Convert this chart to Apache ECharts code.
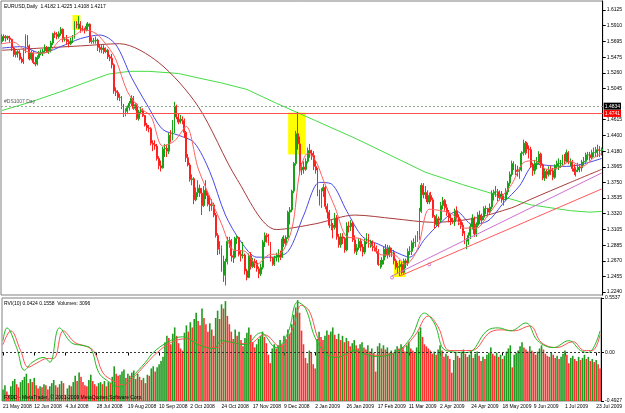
<!DOCTYPE html>
<html>
<head>
<meta charset="utf-8">
<script src="https://cdn.jsdelivr.net/npm/echarts@6/dist/echarts.min.js"></script>
<style>
html,body{margin:0;padding:0;background:#fff;}
#graph_eurusd{width:625px;height:413px;}
</style>
</head>
<body>
<div id="graph_eurusd"></div>
<script>
// date labels, one every 16 daily bars
var tickDates = ['21 May 2008','12 Jun 2008','4 Jul 2008','28 Jul 2008','19 Aug 2008','10 Sep 2008','2 Oct 2008','24 Oct 2008','17 Nov 2008','9 Dec 2008',
  '2 Jan 2009','26 Jan 2009','17 Feb 2009','11 Mar 2009','2 Apr 2009','24 Apr 2009','18 May 2009','9 Jun 2009','1 Jul 2009','23 Jul 2009'];

var priceTicks = [1.6125,1.5910,1.5695,1.5475,1.5260,1.5045,1.4615,1.4400,1.4180,1.3965,1.3750,1.3535,1.3320,1.3105,1.2885,1.2670,1.2455,1.2240];

// [open, close, low, high]
var candles = [
[1.569,1.576,1.566,1.579],[1.576,1.574,1.570,1.579],[1.574,1.576,1.569,1.578],[1.576,1.574,1.571,1.577],[1.574,1.572,1.567,1.577],
[1.572,1.560,1.556,1.573],[1.560,1.551,1.548,1.562],[1.551,1.555,1.547,1.557],[1.555,1.553,1.547,1.557],[1.553,1.545,1.543,1.557],
[1.545,1.541,1.539,1.548],[1.541,1.556,1.538,1.560],[1.556,1.577,1.553,1.579],[1.577,1.563,1.561,1.578],[1.563,1.545,1.543,1.565],
[1.545,1.553,1.543,1.557],[1.553,1.540,1.538,1.556],[1.540,1.538,1.535,1.548],[1.538,1.547,1.536,1.550],[1.547,1.553,1.545,1.556],
[1.553,1.554,1.550,1.558],[1.554,1.556,1.549,1.559],[1.556,1.561,1.553,1.565],[1.561,1.555,1.553,1.563],[1.555,1.560,1.552,1.562],
[1.560,1.567,1.554,1.570],[1.567,1.580,1.564,1.581],[1.580,1.579,1.574,1.583],[1.579,1.576,1.572,1.582],[1.576,1.580,1.573,1.583],
[1.580,1.586,1.577,1.589],[1.586,1.572,1.568,1.587],[1.572,1.572,1.569,1.575],[1.572,1.569,1.565,1.578],[1.569,1.566,1.561,1.572],
[1.566,1.570,1.564,1.574],[1.570,1.575,1.567,1.578],[1.575,1.594,1.573,1.597],[1.594,1.592,1.587,1.597],[1.592,1.593,1.586,1.604],
[1.593,1.587,1.581,1.597],[1.587,1.586,1.583,1.591],[1.586,1.585,1.580,1.588],[1.585,1.590,1.583,1.594],[1.590,1.593,1.584,1.596],
[1.593,1.569,1.567,1.594],[1.569,1.570,1.566,1.575],[1.570,1.570,1.566,1.574],[1.570,1.571,1.566,1.576],[1.571,1.561,1.556,1.573],
[1.561,1.558,1.554,1.565],[1.558,1.560,1.553,1.564],[1.560,1.555,1.552,1.564],[1.555,1.557,1.553,1.561],[1.557,1.548,1.545,1.559],
[1.548,1.546,1.542,1.551],[1.546,1.537,1.532,1.552],[1.537,1.501,1.497,1.539],[1.501,1.499,1.494,1.506],[1.499,1.492,1.488,1.502],
[1.492,1.492,1.487,1.497],[1.492,1.480,1.476,1.494],[1.480,1.469,1.465,1.483],[1.469,1.473,1.466,1.477],[1.473,1.478,1.469,1.481],
[1.478,1.484,1.474,1.487],[1.484,1.491,1.480,1.495],[1.491,1.477,1.475,1.494],[1.477,1.482,1.474,1.485],[1.482,1.463,1.461,1.484],
[1.463,1.472,1.460,1.475],[1.472,1.474,1.469,1.479],[1.474,1.467,1.465,1.477],[1.467,1.454,1.452,1.468],[1.454,1.450,1.446,1.457],
[1.450,1.449,1.444,1.454],[1.449,1.429,1.426,1.451],[1.429,1.427,1.418,1.433],[1.427,1.425,1.420,1.433],[1.425,1.408,1.405,1.428],
[1.408,1.398,1.393,1.411],[1.398,1.395,1.390,1.405],[1.395,1.421,1.394,1.424],[1.421,1.422,1.410,1.428],[1.422,1.418,1.410,1.427],
[1.418,1.440,1.414,1.443],[1.440,1.436,1.430,1.447],[1.436,1.446,1.433,1.461],[1.446,1.480,1.443,1.486],[1.480,1.465,1.462,1.482],
[1.465,1.458,1.455,1.470],[1.458,1.462,1.456,1.468],[1.462,1.460,1.455,1.466],[1.460,1.444,1.436,1.463],[1.444,1.409,1.403,1.446],
[1.409,1.399,1.397,1.414],[1.399,1.379,1.376,1.402],[1.379,1.380,1.371,1.386],[1.380,1.351,1.345,1.382],[1.351,1.361,1.349,1.368],
[1.361,1.367,1.355,1.378],[1.367,1.360,1.355,1.372],[1.360,1.343,1.330,1.367],[1.343,1.364,1.341,1.370],[1.364,1.357,1.352,1.378],
[1.357,1.345,1.342,1.362],[1.345,1.343,1.335,1.357],[1.343,1.344,1.336,1.352],[1.344,1.330,1.327,1.347],[1.330,1.302,1.299,1.333],
[1.302,1.283,1.275,1.305],[1.283,1.285,1.276,1.294],[1.285,1.270,1.252,1.288],[1.270,1.247,1.238,1.274],[1.247,1.266,1.233,1.270],
[1.266,1.294,1.262,1.300],[1.294,1.295,1.285,1.300],[1.295,1.274,1.266,1.297],[1.274,1.272,1.264,1.281],[1.272,1.298,1.270,1.300],
[1.298,1.299,1.290,1.302],[1.299,1.276,1.273,1.300],[1.276,1.274,1.266,1.282],[1.274,1.275,1.270,1.293],[1.275,1.253,1.248,1.277],
[1.253,1.244,1.240,1.256],[1.244,1.274,1.243,1.277],[1.274,1.259,1.255,1.279],[1.259,1.266,1.257,1.271],[1.266,1.264,1.257,1.270],
[1.264,1.256,1.252,1.268],[1.256,1.249,1.243,1.259],[1.249,1.258,1.246,1.263],[1.258,1.293,1.255,1.296],[1.293,1.302,1.286,1.306],
[1.302,1.300,1.292,1.305],[1.300,1.291,1.288,1.304],[1.291,1.269,1.266,1.293],[1.269,1.262,1.260,1.272],[1.262,1.271,1.260,1.274],
[1.271,1.272,1.266,1.278],[1.272,1.275,1.265,1.283],[1.275,1.272,1.268,1.281],[1.272,1.297,1.271,1.300],[1.297,1.291,1.286,1.302],
[1.291,1.299,1.288,1.302],[1.299,1.334,1.297,1.336],[1.334,1.337,1.317,1.341],[1.337,1.363,1.334,1.365],[1.363,1.401,1.360,1.403],
[1.401,1.442,1.398,1.446],[1.442,1.428,1.420,1.472],[1.428,1.392,1.385,1.438],[1.392,1.396,1.385,1.402],[1.396,1.393,1.387,1.404],
[1.393,1.404,1.391,1.408],[1.404,1.419,1.401,1.423],[1.419,1.415,1.409,1.428],[1.415,1.412,1.406,1.420],[1.412,1.397,1.392,1.418],
[1.397,1.392,1.387,1.405],[1.392,1.360,1.356,1.395],[1.360,1.345,1.343,1.365],[1.345,1.363,1.340,1.367],[1.363,1.368,1.355,1.373],
[1.368,1.342,1.338,1.370],[1.342,1.334,1.325,1.346],[1.334,1.316,1.312,1.337],[1.316,1.316,1.309,1.323],[1.316,1.313,1.298,1.319],
[1.313,1.326,1.310,1.333],[1.326,1.300,1.296,1.330],[1.300,1.289,1.285,1.304],[1.289,1.300,1.285,1.305],[1.300,1.298,1.290,1.305],
[1.298,1.282,1.278,1.300],[1.282,1.315,1.280,1.320],[1.315,1.314,1.306,1.321],[1.314,1.319,1.308,1.323],[1.319,1.296,1.293,1.321],
[1.296,1.280,1.277,1.302],[1.280,1.285,1.275,1.290],[1.285,1.294,1.282,1.298],[1.294,1.286,1.280,1.298],[1.286,1.279,1.273,1.290],
[1.279,1.294,1.276,1.297],[1.294,1.300,1.290,1.305],[1.300,1.291,1.285,1.304],[1.291,1.293,1.285,1.296],[1.293,1.287,1.280,1.295],
[1.287,1.285,1.280,1.292],[1.285,1.280,1.277,1.288],[1.280,1.262,1.260,1.283],[1.262,1.262,1.256,1.268],[1.262,1.268,1.258,1.272],
[1.268,1.283,1.262,1.286],[1.283,1.275,1.272,1.290],[1.275,1.285,1.270,1.289],[1.285,1.278,1.272,1.288],[1.278,1.278,1.272,1.285],
[1.278,1.267,1.262,1.282],[1.267,1.258,1.255,1.270],[1.258,1.259,1.250,1.264],[1.259,1.262,1.246,1.268],[1.262,1.251,1.248,1.265],
[1.251,1.267,1.249,1.270],[1.267,1.264,1.257,1.270],[1.264,1.280,1.260,1.284],[1.280,1.280,1.275,1.287],[1.280,1.292,1.275,1.295],
[1.292,1.292,1.284,1.298],[1.292,1.298,1.286,1.302],[1.298,1.302,1.293,1.308],[1.302,1.335,1.296,1.340],[1.335,1.371,1.333,1.374],
[1.371,1.358,1.353,1.374],[1.358,1.361,1.352,1.370],[1.361,1.348,1.345,1.364],[1.348,1.357,1.345,1.361],[1.357,1.351,1.348,1.362],
[1.351,1.328,1.326,1.354],[1.328,1.317,1.311,1.330],[1.317,1.325,1.315,1.331],[1.325,1.323,1.313,1.328],[1.323,1.343,1.320,1.348],
[1.343,1.350,1.338,1.355],[1.350,1.340,1.336,1.352],[1.340,1.333,1.329,1.345],[1.333,1.326,1.320,1.337],[1.326,1.322,1.316,1.331],
[1.322,1.321,1.318,1.326],[1.321,1.336,1.315,1.339],[1.336,1.327,1.324,1.342],[1.327,1.321,1.316,1.331],[1.321,1.316,1.311,1.325],
[1.316,1.305,1.301,1.320],[1.305,1.292,1.290,1.308],[1.292,1.294,1.283,1.298],[1.294,1.302,1.289,1.306],[1.302,1.314,1.297,1.318],
[1.314,1.326,1.310,1.331],[1.326,1.304,1.300,1.328],[1.304,1.316,1.300,1.320],[1.316,1.330,1.313,1.334],[1.330,1.323,1.318,1.336],
[1.323,1.327,1.319,1.332],[1.327,1.339,1.323,1.342],[1.339,1.339,1.331,1.343],[1.339,1.334,1.328,1.340],[1.334,1.341,1.330,1.346],
[1.341,1.360,1.338,1.364],[1.360,1.362,1.350,1.365],[1.362,1.362,1.355,1.370],[1.362,1.354,1.349,1.366],[1.354,1.359,1.350,1.364],
[1.359,1.351,1.347,1.363],[1.351,1.352,1.343,1.357],[1.352,1.362,1.350,1.367],[1.362,1.374,1.358,1.377],[1.374,1.386,1.370,1.390],
[1.386,1.401,1.383,1.405],[1.401,1.396,1.392,1.404],[1.396,1.392,1.385,1.400],[1.392,1.390,1.383,1.398],[1.390,1.392,1.380,1.396],
[1.392,1.415,1.390,1.418],[1.415,1.416,1.412,1.434],[1.416,1.429,1.413,1.432],[1.429,1.421,1.415,1.431],[1.421,1.420,1.408,1.426],
[1.420,1.399,1.395,1.424],[1.399,1.391,1.384,1.402],[1.391,1.401,1.386,1.406],[1.401,1.402,1.393,1.410],[1.402,1.414,1.400,1.418],
[1.414,1.399,1.395,1.416],[1.399,1.381,1.378,1.401],[1.381,1.390,1.377,1.394],[1.390,1.386,1.380,1.393],[1.386,1.392,1.383,1.397],
[1.392,1.391,1.385,1.398],[1.391,1.382,1.378,1.395],[1.382,1.398,1.380,1.400],[1.398,1.401,1.393,1.405],[1.401,1.401,1.392,1.408],
[1.401,1.401,1.395,1.406],[1.401,1.410,1.398,1.413],[1.410,1.404,1.400,1.414],[1.404,1.416,1.402,1.420],[1.416,1.403,1.400,1.418],
[1.403,1.403,1.397,1.408],[1.403,1.394,1.390,1.406],[1.394,1.390,1.385,1.400],[1.390,1.392,1.383,1.396],[1.392,1.396,1.389,1.402],
[1.396,1.395,1.389,1.400],[1.395,1.403,1.390,1.406],[1.403,1.404,1.398,1.410],[1.404,1.413,1.402,1.416],[1.413,1.413,1.406,1.417],
[1.413,1.409,1.405,1.417],[1.409,1.416,1.407,1.420],[1.416,1.416,1.410,1.423],[1.416,1.420,1.410,1.424],[1.420,1.419,1.410,1.427],
[1.419,1.419,1.410,1.425],[1.419,1.421,1.412,1.423]
];

var volumes = [
1100,1500,900,600,1400,1900,2100,1600,1300,1800, 2000,2300,2600,1700,2100,1800,2200,1500,1200,1400,
1300,1600,1500,1100,1400,1700,2000,1500,1300,1600, 1900,1700,600,1200,1500,1400,1800,2400,1900,2700,
2300,1800,1500,1400,2000,2500,1900,1600,1400,1700, 1800,1600,1900,1400,1800,1700,2300,3300,2600,2400,
2500,2800,3000,2200,2600,2400,2700,2900,2100,2600, 2300,2000,2200,1700,2500,2400,3100,3300,2800,3200,
3500,3800,4200,5600,6200,6000,5400,6400,7000,6200, 5500,5000,4800,6500,7200,6600,7500,7000,7800,8400,
7600,7200,8800,7900,7300,6600,7400,6800,6200,7900, 8600,7800,9200,8800,9500,8100,7300,6600,5900,6800,
6200,6600,5800,5200,6000,6500,7000,6300,5600,5100, 5400,5900,6200,6600,6100,5500,4400,3600,5000,5400,
5000,5300,5800,5400,6200,5900,6800,6400,7300,8200, 8900,9600,8400,6700,5400,4100,3600,4800,4600,3500,
3100,5900,6600,6100,5800,6200,6700,6300,6600,7000, 6300,5900,6400,5800,6200,5600,6000,5700,5200,5500,
5800,5300,5000,5400,5600,5100,4900,5300,4700,5000, 4600,2800,5200,5500,5000,5300,4900,5100,4600,4800,
4500,4900,5200,5000,5400,5100,4700,5300,5600,5000, 4800,4600,5100,6600,7000,6100,5400,5200,5000,4800,
4500,4700,4400,4900,5300,4800,4200,4500,4300,4000, 2700,3900,4600,4300,4100,4700,4900,4500,4200,4400,
4800,4100,4500,4700,4300,3800,4200,4000,4400,4600, 5100,4500,4300,4600,4200,4400,4000,4300,4700,5000,
5300,3200,4400,4600,4800,5200,5600,5100,4900,4700, 5200,4800,4600,4400,4700,5000,5300,4900,4500,4300,
4200,4600,4400,4100,4300,4000,4200,4500,4800,4400, 3600,4100,4300,4000,3800,4200,3900,4100,4400,4000,
4200,3800,4000,3700,3900,3500,3096
];

// moving averages, [bar, price]
var maFast = [[0,1.566],[6,1.568],[12,1.556],[18,1.553],[24,1.555],[30,1.572],[36,1.576],[42,1.585],[48,1.580],[54,1.562],[58,1.545],
  [64,1.500],[70,1.478],[76,1.466],[82,1.425],[88,1.432],[94,1.452],[100,1.395],[106,1.355],[112,1.318],[118,1.282],[124,1.280],
  [130,1.262],[136,1.275],[142,1.277],[148,1.312],[152,1.390],[156,1.415],[160,1.405],[164,1.378],[170,1.340],[176,1.300],[182,1.298],
  [188,1.290],[194,1.275],[200,1.275],[206,1.262],[212,1.283],[218,1.338],[224,1.336],[230,1.331],[236,1.312],[242,1.312],[248,1.330],
  [254,1.352],[260,1.372],[266,1.402],[272,1.405],[278,1.393],[284,1.395],[290,1.404],[296,1.397],[302,1.409],[306,1.415]];
var maMid = [[0,1.560],[10,1.562],[20,1.553],[30,1.562],[40,1.573],[50,1.578],[58,1.565],[66,1.520],[74,1.482],[82,1.448],[90,1.440],
  [98,1.430],[106,1.390],[114,1.330],[122,1.293],[130,1.272],[138,1.272],[146,1.280],[154,1.330],[162,1.375],[168,1.373],[176,1.335],
  [184,1.300],[192,1.290],[200,1.280],[208,1.272],[216,1.298],[224,1.320],[232,1.335],[240,1.317],[248,1.322],[256,1.347],[264,1.370],
  [272,1.400],[280,1.398],[288,1.397],[296,1.400],[306,1.408]];
var maSlow = [[0,1.557],[20,1.560],[40,1.563],[60,1.566],[80,1.540],[100,1.480],[120,1.379],[140,1.310],[160,1.318],[180,1.330],
  [200,1.325],[220,1.320],[240,1.325],[260,1.340],[270,1.352],[290,1.375],[306,1.393]];
var ma200 = [[0,1.474],[15,1.486],[30,1.500],[45,1.515],[54,1.524],[65,1.528],[75,1.528],[90,1.525],[100,1.519],[112,1.512],[125,1.503],
  [140,1.484],[160,1.460],[180,1.436],[200,1.410],[216,1.389],[235,1.372],[252,1.358],[270,1.344],[290,1.336],[300,1.334],[306,1.335]];

// RVI(10) main and signal, [bar, value]
var rviMain = [[0,0.12],[2,0.25],[7,0.05],[11,-0.18],[15,-0.10],[21,-0.05],[24,-0.10],[29,0.25],[35,0.10],[41,0.07],[45,0.04],[49,-0.20],
  [53,-0.28],[60,-0.35],[66,-0.25],[73,-0.10],[77,0.00],[84,0.10],[92,0.16],[100,0.08],[108,0.04],[112,0.12],[118,0.10],[124,0.08],
  [132,0.20],[140,0.05],[146,0.20],[151,0.51],[155,0.45],[160,0.15],[166,-0.02],[171,-0.05],[180,0.02],[190,-0.04],[201,0.0],[209,0.15],
  [216,0.40],[221,0.30],[227,0.02],[238,0.0],[248,0.22],[254,0.25],[260,0.22],[268,0.30],[274,0.12],[282,0.05],[290,0.12],[296,0.02],
  [300,0.0],[306,0.22]];
var rviSignal = [[0,0.08],[4,0.22],[9,0.02],[13,-0.15],[17,-0.11],[23,-0.06],[26,-0.06],[31,0.22],[37,0.10],[43,0.06],[47,0.0],[51,-0.20],
  [55,-0.27],[62,-0.33],[68,-0.23],[75,-0.08],[79,0.0],[86,0.10],[94,0.14],[102,0.07],[110,0.05],[114,0.11],[120,0.09],[126,0.09],
  [134,0.18],[142,0.06],[148,0.22],[153,0.48],[157,0.42],[162,0.12],[168,-0.03],[173,-0.04],[182,0.01],[192,-0.03],[203,0.02],[211,0.17],
  [218,0.37],[223,0.26],[229,0.02],[240,0.02],[250,0.21],[256,0.23],[262,0.22],[270,0.27],[276,0.10],[284,0.05],[292,0.11],[298,0.02],
  [302,0.02],[306,0.18]];

// highlighted zones and trend lines, [bar, price]
var boxes = [[[35.5,1.6056],[39.5,1.5850]],[[145.5,1.4711],[154.5,1.4135]],[[200,1.2666],[206,1.2446]]];
var trendA = [[199,1.246],[306,1.388]];
var trendB = [[203,1.246],[306,1.366]];
var trendMarks = [[199,1.244],[218,1.262]];
var levelDotted = 1.4834;
var levelRed = 1.4741;

var chart = document.getElementById('graph_eurusd');
var myChart = echarts.init(chart);
var bars = candles.map(function (c, i) { return String(i); });
var font = 'Liberation Sans';
var fs = 5;

var volData = volumes.map(function (v, i) {
  var up = i === 0 || v >= volumes[i - 1];
  return { value: v, itemStyle: { color: up ? '#1f9a1f' : '#ff3030' } };
});

function xAx(grid, labels) {
  return {
    type: 'category', gridIndex: grid, data: bars, boundaryGap: true,
    axisLine: { show: false },
    axisTick: { show: labels, interval: function (i) { return i % 16 === 0; }, length: 3, alignWithLabel: true, lineStyle: { color: '#000' } },
    axisLabel: {
      show: labels, interval: function (i) { return i % 16 === 0; }, align: 'left', margin: 3,
      showMinLabel: true, showMaxLabel: true, hideOverlap: false,
      fontFamily: font, fontSize: fs, color: '#000',
      formatter: function (v) { return tickDates[Number(v) / 16] || ''; }
    },
    splitLine: { show: false }
  };
}

var option = {
  animation: false,
  backgroundColor: '#fff',
  grid: [
    { left: 1, top: 1, width: 607, height: 294, show: true, borderColor: '#808080', borderWidth: 1 },
    { left: 1, top: 298, width: 607, height: 103, show: true, borderColor: '#808080', borderWidth: 1 }
  ],
  xAxis: [xAx(0, false), xAx(1, true)],
  yAxis: [
    {
      type: 'value', gridIndex: 0, position: 'right', min: 1.21988, max: 1.62486, scale: true,
      axisLine: { show: true, lineStyle: { color: '#000' } },
      axisTick: { show: true, length: 3, customValues: priceTicks, lineStyle: { color: '#000' } },
      axisLabel: { customValues: priceTicks, fontFamily: font, fontSize: fs, color: '#000', margin: 4,
        formatter: function (v) { return v.toFixed(4); } },
      splitLine: { show: false }
    },
    {
      type: 'value', gridIndex: 1, position: 'right', min: -0.4927, max: 0.5537,
      axisLine: { show: true, lineStyle: { color: '#000' } },
      axisTick: { show: true, length: 3, customValues: [0.5537, 0, -0.4927], lineStyle: { color: '#000' } },
      axisLabel: { customValues: [0.5537, 0, -0.4927], fontFamily: font, fontSize: fs, color: '#000', margin: 4,
        formatter: function (v) { return v === 0 ? '0.00' : v.toFixed(4); } },
      splitLine: { show: false }
    },
    { type: 'value', gridIndex: 1, min: 0, max: 9800, show: false }
  ],
  series: [
    {
      type: 'line', xAxisIndex: 0, yAxisIndex: 0, data: [], z: 0, silent: true,
      markArea: {
        silent: true,
        itemStyle: { color: '#ffff00', opacity: 1 },
        data: boxes.map(function (b) { return [{ coord: b[0] }, { coord: b[1] }]; })
      }
    },
    {
      type: 'line', xAxisIndex: 0, yAxisIndex: 0, data: ma200, symbol: 'none', z: 1,
      lineStyle: { color: '#44dd44', width: 1 }
    },
    {
      type: 'line', xAxisIndex: 0, yAxisIndex: 0, data: maSlow, symbol: 'none', smooth: 0.3, z: 1,
      lineStyle: { color: '#a83a3a', width: 1 }
    },
    {
      type: 'line', xAxisIndex: 0, yAxisIndex: 0, data: maMid, symbol: 'none', smooth: 0.3, z: 1,
      lineStyle: { color: '#4848e8', width: 1 }
    },
    {
      type: 'candlestick', xAxisIndex: 0, yAxisIndex: 0, data: candles, barWidth: 1.4, z: 2,
      itemStyle: { color: '#17a317', color0: '#ff2020', borderColor: '#17a317', borderColor0: '#ff2020', borderWidth: 1 }
    },
    {
      type: 'line', xAxisIndex: 0, yAxisIndex: 0, data: maFast, symbol: 'none', smooth: 0.3, z: 3,
      lineStyle: { color: '#ff6060', width: 1 },
      markLine: {
        silent: true, symbol: 'none', animation: false,
        data: [
          { yAxis: levelDotted, lineStyle: { color: '#8fa88f', type: [2, 2], width: 1 },
            label: { show: true, position: 'end', distance: 1, formatter: levelDotted.toFixed(4), color: '#fff',
              backgroundColor: '#000', fontFamily: font, fontSize: fs, padding: [1, 1] } },
          { yAxis: levelRed, lineStyle: { color: '#ff5050', type: 'solid', width: 1 },
            label: { show: true, position: 'end', distance: 1, formatter: levelRed.toFixed(4), color: '#fff',
              backgroundColor: '#ff0000', fontFamily: font, fontSize: fs, padding: [1, 1] } },
          [{ coord: trendA[0], lineStyle: { color: '#d070d0', type: 'solid', width: 1 }, label: { show: false } }, { coord: trendA[1] }],
          [{ coord: trendB[0], lineStyle: { color: '#ff5a5a', type: 'solid', width: 1 }, label: { show: false } }, { coord: trendB[1] }]
        ]
      }
    },
    {
      type: 'scatter', xAxisIndex: 0, yAxisIndex: 0, data: trendMarks, symbol: 'circle', symbolSize: 3, z: 4,
      itemStyle: { color: 'none', borderColor: '#c060c0', borderWidth: 1 }
    },
    {
      type: 'bar', xAxisIndex: 1, yAxisIndex: 2, data: volData, barWidth: 1.6, z: 1
    },
    {
      type: 'line', xAxisIndex: 1, yAxisIndex: 1, data: rviSignal, symbol: 'none', smooth: 0.4, z: 3,
      lineStyle: { color: '#ff5050', width: 1 },
      markLine: {
        silent: true, symbol: 'none', label: { show: false },
        lineStyle: { color: '#333', type: [2, 2], width: 1 },
        data: [{ yAxis: 0 }]
      }
    },
    {
      type: 'line', xAxisIndex: 1, yAxisIndex: 1, data: rviMain, symbol: 'none', smooth: 0.4, z: 3,
      lineStyle: { color: '#22bb22', width: 1 }
    }
  ],
  graphic: [
    { type: 'text', left: 4, top: 4, z: 10, style: { text: 'EURUSD,Daily  1.4182 1.4225 1.4108 1.4217', fontFamily: font, fontSize: fs, fill: '#000' } },
    { type: 'text', left: 4, top: 99, z: 10, style: { text: '#DS1007 Day', fontFamily: font, fontSize: fs, fill: '#555' } },
    { type: 'text', left: 4, top: 301, z: 10, style: { text: 'RVI(10) 0.0424 0.1558  Volumes: 3096', fontFamily: font, fontSize: fs, fill: '#000' } },
    { type: 'text', left: 4, top: 395, z: 10, style: { text: 'FXDD - MetaTrader, \u00a9 2001-2009 MetaQuotes Software Corp.', fontFamily: font, fontSize: fs, fill: '#000' } }
  ]
};

myChart.setOption(option);
</script>
</body>
</html>
